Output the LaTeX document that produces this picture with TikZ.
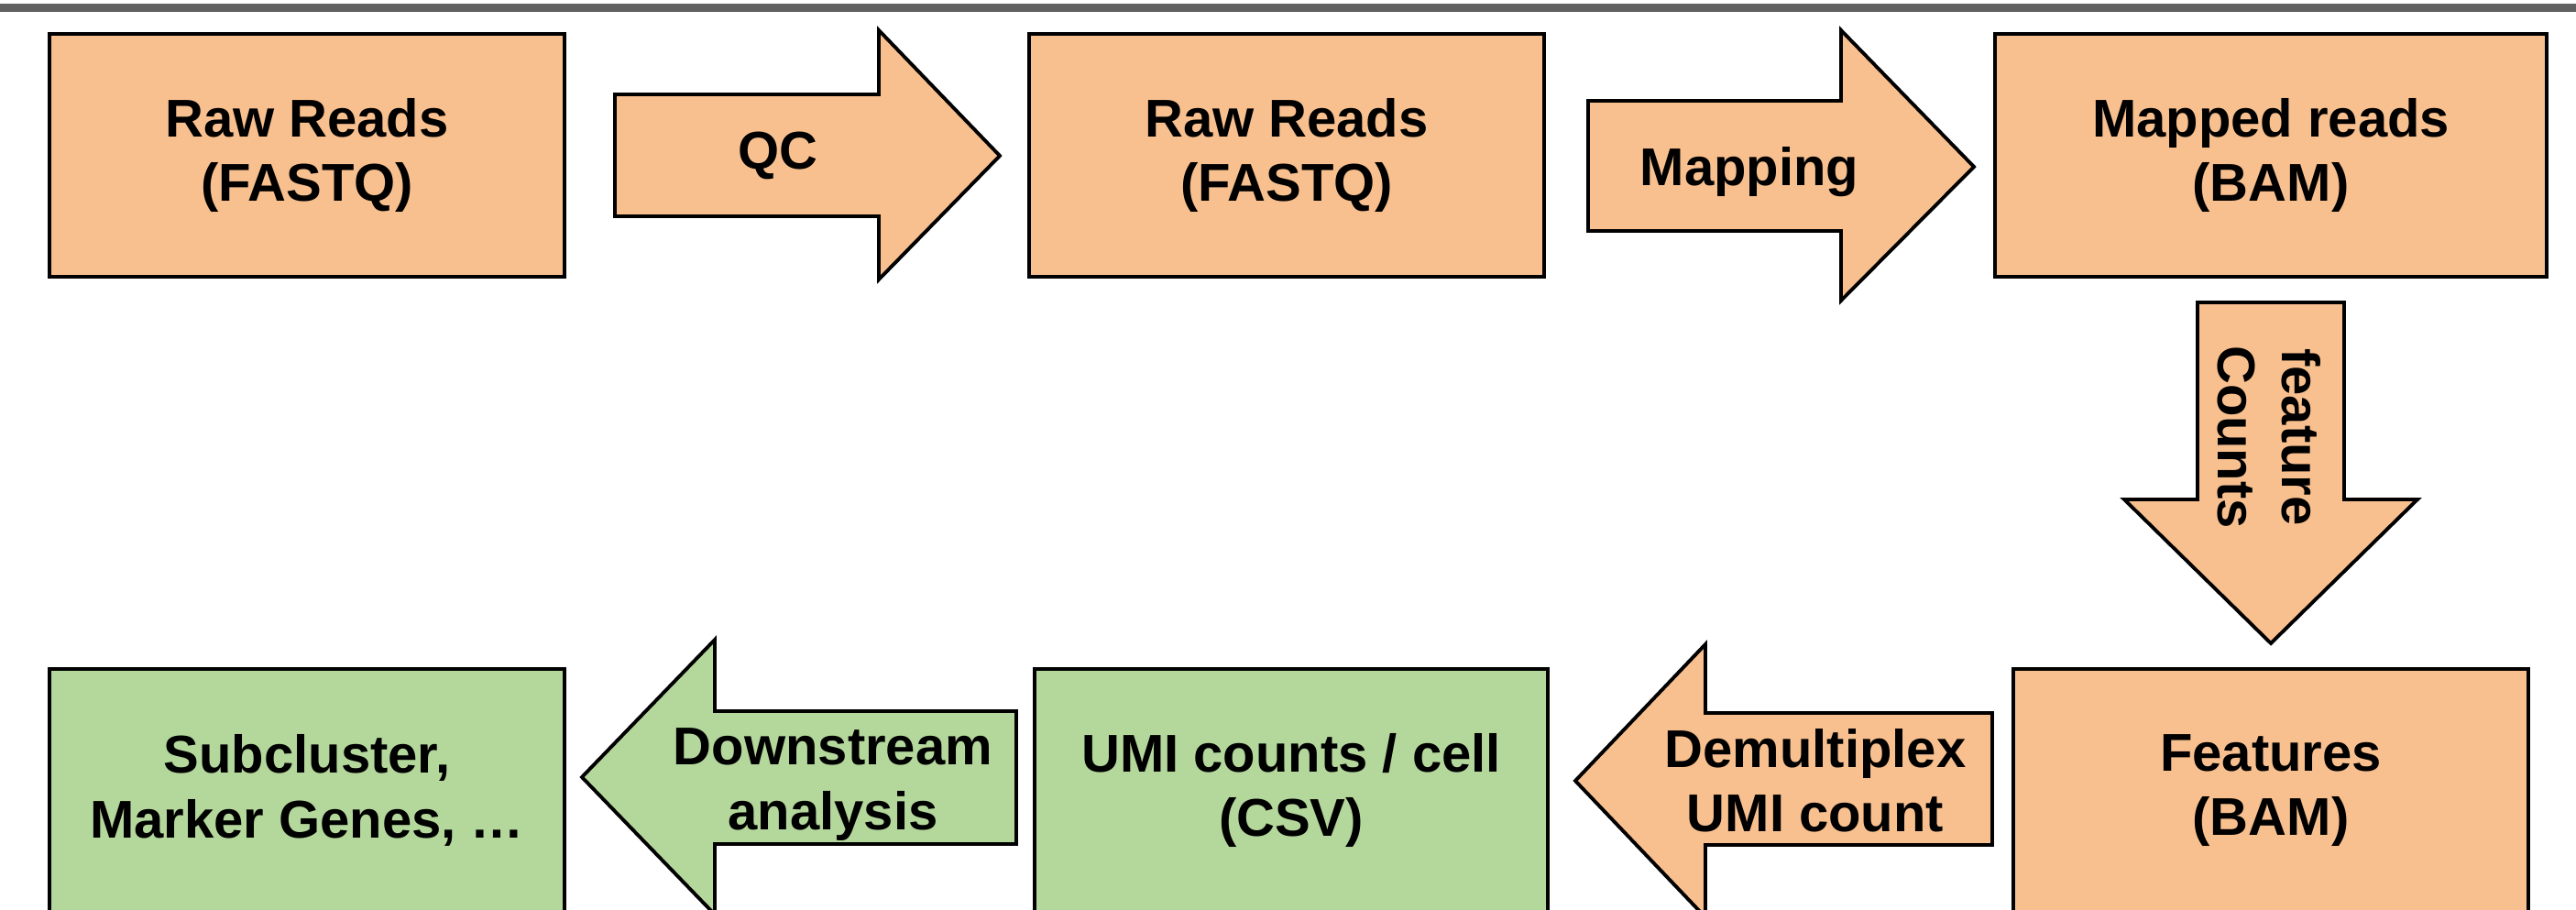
\documentclass[tikz,border=0pt]{standalone}
\usepackage{fontspec}
\setmainfont{Liberation Sans}
\usetikzlibrary{positioning}

\definecolor{peach}{RGB}{249,192,143}
\definecolor{sage}{RGB}{180,215,156}
\definecolor{rulegray}{RGB}{96,96,96}

\tikzset{
  stagebox/.style={draw=black, line width=1.1pt, minimum height=2.65cm, align=center,
    font=\fontsize{16.5}{20}\selectfont\bfseries},
  peachbox/.style={stagebox, fill=peach},
  sagebox/.style={stagebox, fill=sage},
  blockarrow/.style={draw=black, line width=1.1pt, line join=miter},
  steplabel/.style={align=center, font=\fontsize{16.5}{20}\selectfont\bfseries}
}

\begin{document}
\begin{tikzpicture}
  \useasboundingbox (0,0) rectangle (28.11,9.92);
  \clip (0,0) rectangle (28.11,9.92);
  \fill[rulegray] (0,9.79) rectangle (28.11,9.88);

  % top row
  \node[peachbox, minimum width=5.62cm] (rawreads) at (3.35,8.225) {Raw Reads\\(FASTQ)};
  \node[peachbox, minimum width=5.62cm] (qcreads) at (14.04,8.225) {Raw Reads\\(FASTQ)};
  \node[peachbox, minimum width=6.02cm] (mapped) at (24.78,8.225) {Mapped reads\\(BAM)};

  % bottom row
  \node[peachbox, minimum width=5.62cm] (features) at (24.78,1.295) {Features\\(BAM)};
  \node[sagebox, minimum width=5.60cm] (umicounts) at (14.09,1.295) {UMI counts / cell\\(CSV)};
  \node[sagebox, minimum width=5.62cm] (subcluster) at (3.35,1.295) {Subcluster,\\Marker Genes, …};

  % block arrows
  \draw[blockarrow, fill=peach] (6.71,8.89) -- (9.59,8.89) -- (9.59,9.59) -- (10.91,8.22)
    -- (9.59,6.87) -- (9.59,7.56) -- (6.71,7.56) -- cycle;
  \draw[blockarrow, fill=peach] (17.33,8.82) -- (20.09,8.82) -- (20.09,9.59) -- (21.54,8.10)
    -- (20.09,6.64) -- (20.09,7.40) -- (17.33,7.40) -- cycle;
  \draw[blockarrow, fill=peach] (23.98,6.62) -- (25.58,6.62) -- (25.58,4.47) -- (26.38,4.47)
    -- (24.78,2.90) -- (23.18,4.47) -- (23.98,4.47) -- cycle;
  \draw[blockarrow, fill=peach] (21.74,2.14) -- (18.61,2.14) -- (18.61,2.89) -- (17.19,1.40)
    -- (18.61,-0.09) -- (18.61,0.70) -- (21.74,0.70) -- cycle;
  \draw[blockarrow, fill=sage] (11.09,2.16) -- (7.80,2.16) -- (7.80,2.94) -- (6.35,1.44)
    -- (7.80,-0.06) -- (7.80,0.71) -- (11.09,0.71) -- cycle;

  % arrow labels
  \node[steplabel] (qclabel) at (8.49,8.22) {QC};
  \node[steplabel] (maplabel) at (19.09,8.04) {Mapping};
  \node[steplabel, rotate=-90] (countlabel) at (24.76,5.15) {feature\\Counts};
  \node[steplabel] (demuxlabel) at (19.81,1.405) {Demultiplex\\UMI count};
  \node[steplabel] (downlabel) at (9.09,1.36) {Downstream\\analysis};
\end{tikzpicture}
\end{document}
